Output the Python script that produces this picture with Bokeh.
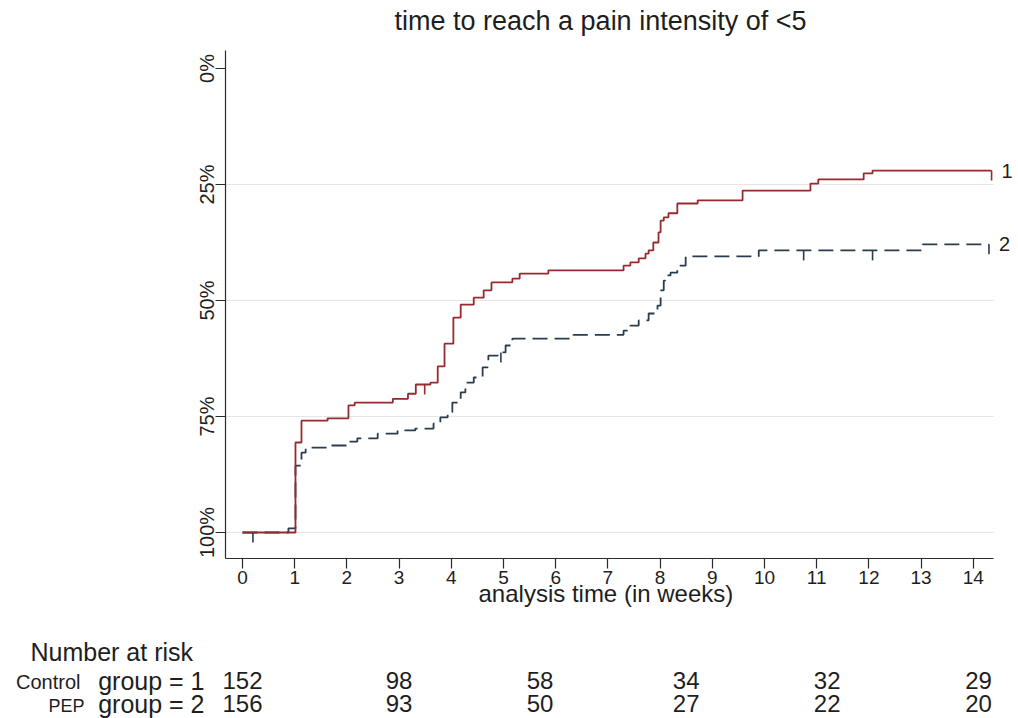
import numpy as np
from bokeh.plotting import figure
from bokeh.layouts import column
from bokeh.models import Range1d, FixedTicker, ColumnDataSource, Title
from bokeh.core.properties import value
from bokeh.embed import file_html
from bokeh.resources import INLINE

# ---------------- data ----------------
control_t = [0, 1.015, 1.13, 1.63, 2.03, 2.15, 2.88, 3.17, 3.32, 3.60, 3.74, 3.87, 4.04, 4.18,
             4.43, 4.62, 4.77, 5.17, 5.31, 5.86, 7.30, 7.43, 7.59, 7.72, 7.78, 7.87, 7.97,
             8.01, 8.07, 8.16, 8.33, 8.72, 9.58, 10.88, 11.03, 11.90, 12.07, 14.35]
control_s = [1.0, 0.806, 0.759, 0.754, 0.726, 0.720, 0.712, 0.701, 0.681, 0.677, 0.642, 0.593,
             0.537, 0.509, 0.494, 0.478, 0.461, 0.453, 0.442, 0.435, 0.425, 0.418, 0.409, 0.399,
             0.392, 0.375, 0.353, 0.328, 0.321, 0.312, 0.291, 0.284, 0.263, 0.248, 0.239, 0.226,
             0.220, 0.220]
control_censor_t = [3.49, 14.35]

pep_t = [0, 0.88, 1.015, 1.13, 1.21, 1.63, 2.03, 2.20, 2.59, 2.97, 3.31, 3.66, 3.79, 3.93, 4.02,
         4.18, 4.27, 4.43, 4.60, 4.71, 4.89, 5.04, 5.17, 6.34, 7.30, 7.43, 7.59, 7.78, 7.95,
         8.01, 8.07, 8.10, 8.20, 8.33, 8.49, 9.89, 13.03, 14.30]
pep_s = [1.0, 0.991, 0.856, 0.828, 0.817, 0.8125, 0.804, 0.797, 0.787, 0.780, 0.776, 0.765,
         0.752, 0.741, 0.720, 0.698, 0.677, 0.666, 0.644, 0.619, 0.612, 0.597, 0.582, 0.574,
         0.565, 0.554, 0.543, 0.528, 0.511, 0.478, 0.457, 0.446, 0.440, 0.425, 0.405, 0.392,
         0.379, 0.379]
pep_censor_t = [0.2, 4.95, 10.75, 12.07, 14.30]

x_ticks = list(range(0, 15))
y_ticks = [0.0, 0.25, 0.5, 0.75, 1.0]
y_tick_labels = ["0%", "25%", "50%", "75%", "100%"]
grid_ticks = [0.25, 0.5, 0.75, 1.0]

risk_times = [0, 3.0, 5.7, 8.5, 11.2, 14.1]
risk_control = [152, 98, 58, 34, 32, 29]
risk_pep = [156, 93, 50, 27, 22, 20]
group_names = ["Control", "PEP"]
group_labels = ["group = 1", "group = 2"]
curve_tags = ["1", "2"]

title_text = "time to reach a pain intensity of <5"
xlabel_text = "analysis time (in weeks)"
risk_title = "Number at risk"

# ---------------- layout (page pixels) ----------------
W = 1016
HM, HT = 628, 90          # main plot height, risk table height
X0_PX, PX_PER_WEEK = 242.0, 52.2
Y0_PX, PX_PER_UNIT = 68.0, 464.0
FRAME_L, FRAME_R, FRAME_T, FRAME_B = 225, 993, 50, 558


def wx(px):
    return (px - X0_PX) / PX_PER_WEEK


def wy(py):
    return (py - Y0_PX) / PX_PER_UNIT


FONT = "Liberation Sans"
TXT = "#1e1e1e"
RED = "#972a2e"
BLUE = "#2a3d4e"
AX = "#2b2b2b"
TICK_LEN = 10 / PX_PER_UNIT

p = figure(width=W, height=HM, title=None,
           x_range=Range1d(wx(FRAME_L), wx(W)),
           y_range=Range1d(wy(FRAME_B), wy(0)),
           output_backend="svg", toolbar_location=None,
           min_border_left=FRAME_L, min_border_right=0,
           min_border_top=0, min_border_bottom=HM - FRAME_B)
p.outline_line_color = None
p.background_fill_color = "white"
p.border_fill_color = "white"

for ax in (p.xaxis[0], p.yaxis[0]):
    ax.axis_line_color = AX
    ax.axis_line_width = 1.2
    ax.major_tick_line_color = AX
    ax.major_tick_line_width = 1.2
    ax.major_tick_out = 10
    ax.major_tick_in = 0
    ax.minor_tick_line_color = None
    ax.major_label_text_font = FONT
    ax.major_label_text_color = TXT

p.xaxis.major_label_text_font_size = "19px"
p.yaxis.major_label_text_font_size = "20px"

p.xaxis.ticker = FixedTicker(ticks=x_ticks)
p.xaxis.bounds = (wx(FRAME_L), wx(FRAME_R))
p.xaxis.major_label_standoff = 2

p.yaxis.ticker = FixedTicker(ticks=y_ticks)
p.yaxis.bounds = (wy(FRAME_T), wy(FRAME_B))
p.yaxis.major_label_overrides = {t: l for t, l in zip(y_ticks, y_tick_labels)}
p.yaxis.major_label_orientation = "parallel"
p.yaxis.major_label_standoff = -2

p.xgrid.grid_line_color = None
p.ygrid.grid_line_color = None

# x axis title, placed below the axis
p.add_layout(Title(text=xlabel_text, align="left", offset=253, standoff=-17,
                   text_font=FONT, text_font_size="24px", text_font_style="normal",
                   text_color=TXT), "below")

# horizontal grid lines spanning the axis extent
p.segment(x0=[wx(FRAME_L)] * len(grid_ticks), x1=[wx(FRAME_R)] * len(grid_ticks),
          y0=grid_ticks, y1=grid_ticks, line_color="#e6e6e6", line_width=1.2)

# curves
p.step(pep_t, pep_s, mode="after", line_color=BLUE, line_width=1.8, line_dash="15 7")
p.step(control_t, control_s, mode="after", line_color=RED, line_width=1.8)


def censor_levels(ts, ss, cts):
    idx = np.searchsorted(np.asarray(ts), cts, side="right") - 1
    return np.asarray(ss)[idx]


pc = censor_levels(pep_t, pep_s, pep_censor_t)
cc = censor_levels(control_t, control_s, control_censor_t)
p.segment(x0=pep_censor_t, y0=pc, x1=pep_censor_t, y1=pc + TICK_LEN, line_color=BLUE, line_width=1.6)
p.segment(x0=control_censor_t, y0=cc, x1=control_censor_t, y1=cc + TICK_LEN, line_color=RED, line_width=1.6)

# curve end tags
p.text(x=[control_t[-1], pep_t[-1]], y=[control_s[-1], pep_s[-1]], text=curve_tags,
       x_offset=10, text_font=value(FONT), text_font_size=value("20px"), text_color=TXT,
       text_baseline="middle", text_align="left")

# title
p.text(x=[wx(600)], y=[wy(20)], text=[title_text], text_font=value(FONT),
       text_font_size=value("27px"), text_color=TXT, text_align="center", text_baseline="middle")

# ---------------- number-at-risk table ----------------
q = figure(width=W, height=HT, title=None,
           x_range=Range1d(wx(0), wx(W)), y_range=Range1d(HM + HT, HM),
           x_axis_type=None, y_axis_type=None, output_backend="svg", toolbar_location=None,
           min_border_left=0, min_border_right=0, min_border_top=0, min_border_bottom=0)
q.outline_line_color = None
q.background_fill_color = "white"
q.border_fill_color = "white"

for fig in (p, q):
    if "frame_align" in fig.properties():
        fig.frame_align = False

ROW_MID = [680, 703]
q.text(x=[wx(30)], y=[651], text=[risk_title], text_font=value(FONT), text_font_size=value("25px"),
       text_color=TXT, text_align="left", text_baseline="middle")
q.text(x=[wx(80)], y=[ROW_MID[0] + 1], text=[group_names[0]], text_font=value(FONT),
       text_font_size=value("20px"), text_color=TXT, text_align="right", text_baseline="middle")
q.text(x=[wx(84)], y=[ROW_MID[1] + 2], text=[group_names[1]], text_font=value(FONT),
       text_font_size=value("18px"), text_color=TXT, text_align="right", text_baseline="middle")
q.text(x=[wx(204)] * 2, y=ROW_MID, text=group_labels, text_font=value(FONT),
       text_font_size=value("25px"), text_color=TXT, text_align="right", text_baseline="middle")

risk_src = ColumnDataSource(dict(
    t=risk_times + risk_times,
    y=[ROW_MID[0]] * len(risk_times) + [ROW_MID[1]] * len(risk_times),
    n=[str(v) for v in risk_control] + [str(v) for v in risk_pep],
))
q.text(x="t", y="y", text="n", source=risk_src, text_font=value(FONT),
       text_font_size=value("24px"), text_color=TXT, text_align="center", text_baseline="middle")

layout = column(p, q, spacing=0)
open("out.html", "w").write(file_html(layout, INLINE))
